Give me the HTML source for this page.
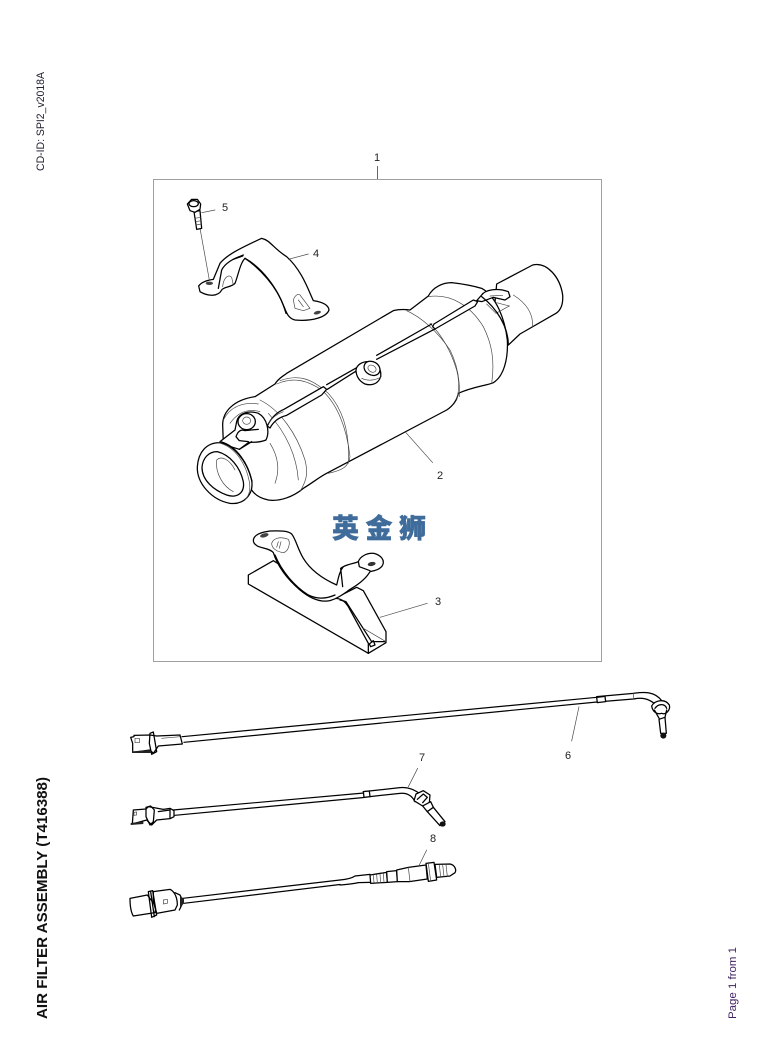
<!DOCTYPE html>
<html><head><meta charset="utf-8"><style>
html,body{margin:0;padding:0;background:#fff}
svg{display:block}
.k{fill:none;stroke:#000;stroke-width:3.8;stroke-linejoin:round;stroke-linecap:round}
.w{fill:#fff;stroke:#000;stroke-width:3.8;stroke-linejoin:round;stroke-linecap:round}
.t{fill:none;stroke:#444;stroke-width:2;stroke-linecap:round}
.c{fill:none;stroke:#000;stroke-width:1.2;stroke-linecap:round}
.n{font:11px "Liberation Sans",sans-serif;fill:#222;text-anchor:middle}
</style></head><body>
<svg width="758" height="1057" viewBox="0 0 758 1057" xmlns="http://www.w3.org/2000/svg">
<rect x="153.5" y="179.5" width="448" height="482" fill="none" stroke="#a0a0a0" stroke-width="1"/>
<line x1="377.5" y1="166" x2="377.5" y2="179" stroke="#666"/>
<text x="377" y="161" class="n">1</text>

<!-- main part -->
<g transform="translate(180,180) scale(.33333)">
<!-- outlet pipe -->
<path class="w" d="M950 312 L1058 255 C1100 245 1140 290 1148 345 C1150 375 1140 392 1128 400 L1020 462 L985 495 L940 420 Z"/>
<path class="t" d="M1000 345 C1040 370 1060 400 1058 440"/>
<!-- body -->
<path class="w" d="M130 790 L128 735 C128 695 160 660 225 650 L285 612 C295 595 310 588 320 580 L640 392 C655 388 675 388 690 390 L745 348 C760 320 790 308 815 308 C850 312 880 318 905 325 C950 350 975 420 982 480 C985 540 970 590 940 608 C915 618 880 620 835 640 C830 665 815 680 800 690 L440 880 C420 890 395 910 370 925 C340 950 300 965 265 960 C240 955 225 945 215 930 Z"/>
<!-- bands -->
<path class="t" d="M290 612 C340 590 380 600 425 630 C470 670 500 740 510 830 C505 860 490 870 445 880"/>
<path class="t" d="M300 602 C360 580 400 600 445 640 C490 690 510 760 505 850"/>
<path class="t" d="M680 392 C720 410 770 450 810 510 C835 560 840 610 838 650"/>
<path class="t" d="M750 430 C790 470 815 520 830 570 C838 600 838 630 830 660"/>
<path class="t" d="M745 350 C810 340 870 375 910 440 C935 490 945 540 935 610"/>
<path class="t" d="M240 660 C300 690 350 760 375 840 C385 880 380 900 360 935"/>
<path class="t" d="M265 700 C320 760 350 830 355 900"/>
<path class="t" d="M270 790 C295 830 300 870 285 910"/>
<!-- top strap -->
<path class="w" d="M320 706 L425 645 L440 628 L430 620 L312 688 C295 695 275 710 262 738 L270 744 C280 725 295 712 320 706 Z"/>
<path class="t" d="M265 730 C280 708 295 700 310 695"/>
<path class="k" d="M442 628 L530 572 M440 614 L530 563"/>
<path class="k" d="M590 538 L765 447 M590 526 L755 432"/>
<path class="w" d="M765 447 L885 378 L893 365 L880 360 L762 432 L758 440 Z"/>
<path class="w" d="M528 570 C530 555 545 545 565 545 C590 545 605 565 602 590 C595 612 575 618 555 612 C540 605 528 590 528 570 Z"/>
<path class="t" d="M545 595 C565 605 590 600 604 590"/>
<ellipse class="w" cx="576" cy="565" rx="25" ry="20" transform="rotate(30 576 565)"/>
<ellipse class="t" cx="576" cy="566" rx="13" ry="10" transform="rotate(30 576 566)"/>
<!-- far bracket -->
<path class="w" d="M890 362 L905 345 C915 330 950 322 985 335 L990 350 L975 360 L940 352 L905 365 Z"/>
<path class="t" d="M950 368 L988 378 L948 400 L920 372 M930 348 L968 346"/>
<path class="k" d="M905 350 C950 385 985 440 985 495"/>
<!-- near lug -->
<path class="w" d="M120 785 L165 750 L170 725 C175 700 205 690 235 700 C262 715 270 755 258 780 C235 790 215 785 205 788 L178 808 L120 790 Z"/>
<path class="k" d="M168 770 C175 750 185 748 195 752 L235 748 M168 770 L178 782 L205 785"/>
<path class="t" d="M130 720 C150 680 190 665 235 672 M150 730 C175 695 205 685 240 695"/>
<ellipse class="w" cx="200" cy="725" rx="26" ry="24"/>
<ellipse class="t" cx="200" cy="722" rx="12" ry="11"/>
<path class="k" d="M178 808 L215 785"/>
<!-- flange -->
<path class="w" d="M52 860 C55 815 80 788 120 788 C160 795 200 840 215 900 C222 945 190 975 150 970 C95 960 50 910 52 860 Z"/>
<path class="k" d="M125 786 C170 800 205 850 216 905" />
<path class="t" d="M115 788 C165 800 198 850 208 905 C212 930 208 945 195 960"/>
<path class="k" d="M66 862 C68 835 85 815 112 815 C150 825 180 860 190 905 C195 940 170 955 140 945 C100 930 66 900 66 862 Z"/>
<path class="t" d="M110 840 C125 825 150 840 165 870 M110 840 C105 880 130 920 160 935"/>
<!-- leader 2 -->
<path class="t" d="M678 758 L758 848"/>
</g>
<text x="440" y="479" class="n">2</text>

<!-- bracket 4, bolt 5 -->
<g transform="translate(180,180) scale(.33333)">
<path class="w" d="M56 318 C65 305 85 300 100 298 L120 250 C140 225 180 205 245 175 C270 180 280 205 320 230 C365 270 385 330 400 362 C420 365 445 372 447 390 C440 410 400 425 345 420 C325 415 320 400 312 380 C290 320 240 265 195 235 C180 250 175 285 165 310 C155 322 130 320 125 330 C115 350 85 350 60 335 Z"/>
<path class="k" d="M195 235 C240 260 295 320 318 400 M188 228 L160 238 L190 225"/>
<path class="t" d="M128 320 C130 295 145 280 155 292 L160 315"/>
<path class="k" d="M115 325 L125 270 C135 250 160 235 185 228"/>
<path class="t" d="M340 360 C345 345 355 340 360 345 L390 385 L370 392 L345 385 Z M355 360 L370 380"/>
<ellipse cx="412" cy="398" rx="11" ry="5" fill="#444" transform="rotate(-15 412 398)"/>
<ellipse cx="88" cy="310" rx="11" ry="5" fill="#444"/>
<path class="t" d="M60 145 L88 300"/>
<path class="w" d="M42 95 L60 92 L65 145 L50 148 Z"/>
<path class="t" d="M45 115 L62 112 M47 125 L63 122 M48 135 L64 132"/>
<path class="w" d="M22 72 L35 58 L52 58 L62 72 L60 88 L45 97 L30 92 Z"/>
<ellipse class="k" cx="41" cy="71" rx="14" ry="9"/>
<path class="t" d="M65 98 L105 90"/>
<path class="t" d="M325 238 L385 222"/>
</g>
<text x="225" y="211" class="n">5</text>
<text x="316" y="257" class="n">4</text>

<!-- bracket 3 -->
<g transform="translate(220,500) scale(.33333)">
<path class="w" d="M160 182 L85 225 L85 252 L445 460 L498 428 L498 395 L430 272 L410 262 L345 295 Z"/>
<path class="k" d="M345 295 C365 295 375 305 385 320 L445 430 L445 460"/>
<path class="k" d="M360 300 L378 305 L455 425 L495 425"/>
<path class="t" d="M430 385 L498 425"/>
<path class="k" d="M448 432 L460 422 L465 435 L452 440 Z"/>
<path class="w" d="M100 120 C102 105 120 97 150 93 C180 92 205 92 215 102 C228 118 232 145 250 175 C270 208 305 235 350 255 C355 235 358 215 370 200 C385 192 405 190 415 185 C420 170 440 158 462 160 C482 165 495 180 488 195 C482 208 465 212 450 215 C440 232 420 250 395 265 C375 278 355 295 330 302 C300 308 270 295 240 270 C205 240 175 205 160 158 C150 145 125 145 112 138 C103 132 100 128 100 120 Z"/>
<path class="k" d="M165 165 C185 215 225 260 265 285 C290 298 315 298 345 285 M370 200 L362 205 L368 260 M415 185 L418 200 L450 212"/>
<path class="t" d="M155 130 C160 115 180 108 205 118 C212 130 205 155 190 158 C170 155 155 145 155 130 Z M175 125 L170 142 M183 125 L178 145"/>
<ellipse cx="133" cy="106" rx="13" ry="6" fill="#444" transform="rotate(-15 133 106)"/>
<ellipse cx="455" cy="192" rx="12" ry="6" fill="#333" transform="rotate(-10 455 192)"/>
<path class="t" d="M480 352 L622 310"/>
</g>
<text x="438" y="605" class="n">3</text>

<!-- cables in page coordinates -->
<path class="c" d="M182 736.7 L597 697.3 M184 742.3 L597 702"/>
<path class="c" d="M173 810 L364 793 M175 815.3 L364 797.5"/>
<path class="c" d="M183 898.3 L340 880 M184 903.3 L340 884.5"/>

<!-- sensor 6 -->
<g transform="translate(340,680) scale(.33333)">
<path class="k" d="M770 50 L880 40 C915 35 945 35 965 62 M770 66 L880 57 C905 52 925 55 945 72"/>
<path class="w" d="M770 52 L795 49 L797 65 L772 68 Z"/>
<path class="t" d="M880 40 L880 57"/>
<path class="w" d="M935 78 C945 60 975 55 988 75 C992 90 978 105 965 100 C950 105 938 95 935 78 Z"/>
<path class="k" d="M945 85 C955 70 975 70 980 85 M943 90 L960 120 L975 112 L980 90"/>
<path class="w" d="M957 118 L975 112 L979 160 L962 160 Z"/>
<ellipse cx="970" cy="167" rx="9" ry="9" fill="#111"/>
<path class="t" d="M717 80 L695 183"/>
</g>
<text x="568" y="759" class="n">6</text>
<!-- sensor 7 -->
<g transform="translate(340,680) scale(.33333)">
<path class="k" d="M70 335 L180 323 C205 320 225 330 245 345 M70 352 L180 340 C200 338 215 345 225 365"/>
<path class="w" d="M70 335 L88 333 L90 350 L72 352 Z"/>
<path class="w" d="M222 362 L228 342 L250 332 L270 345 L268 368 L248 378 Z"/>
<path class="k" d="M232 358 L250 342 L262 352 L248 368"/>
<path class="w" d="M248 378 L272 365 L280 382 L262 395 Z"/>
<path class="w" d="M262 395 L280 382 L315 425 L300 437 Z"/>
<ellipse cx="308" cy="432" rx="9" ry="8" fill="#111"/>
<path class="t" d="M205 320 L233 265"/>
</g>
<text x="422" y="761" class="n">7</text>
<!-- sensor 8 -->
<g transform="translate(340,680) scale(.33333)">
<path class="k" d="M0 600 C20 598 35 595 45 588 L90 583 M0 615 C20 613 40 612 55 608 L90 607"/>
<path class="w" d="M90 585 L140 577 L142 607 L92 610 Z"/>
<path class="t" d="M100 585 L102 608 M110 584 L112 608 M120 582 L122 608 M130 581 L132 607"/>
<path class="w" d="M140 575 L170 572 L172 605 L142 607 Z"/>
<path class="w" d="M170 570 L205 562 L258 555 L262 597 L208 605 L172 605 Z"/>
<path class="t" d="M205 562 L210 605"/>
<path class="w" d="M258 550 L282 547 L290 600 L265 604 Z"/>
<path class="t" d="M265 550 L272 603"/>
<path class="w" d="M285 553 L330 552 C345 555 350 570 345 578 L330 588 L290 592 Z"/>
<path class="t" d="M298 555 L302 590 M308 554 L312 590 M318 554 L322 589"/>
<path class="t" d="M238 555 L260 510"/>
</g>
<text x="433" y="842" class="n">8</text>

<!-- connectors -->
<g transform="translate(120,720) scale(.33333)">
<!-- 6 -->
<path class="w" d="M32 52 L42 50 L42 46 L90 45 L110 48 L180 45 L187 72 L115 78 L100 100 L90 90 L38 97 L38 70 Z"/>
<path class="k" d="M90 40 L100 36 L110 95 L95 103 L88 70 Z"/>
<path class="t" d="M45 55 L58 55 L58 68 L45 68 Z M125 55 L180 50"/>
<path d="M36 94 L90 90 L92 99 L36 99 Z" fill="#222"/>
<!-- 7 -->
<path class="w" d="M40 270 L78 267 L85 260 L130 268 L150 265 L162 272 L162 290 L150 296 L110 300 L95 315 L80 300 L37 312 Z"/>
<path class="k" d="M78 262 L92 258 L103 270 L100 305 L90 315 L78 290 Z M115 275 L150 270 M150 268 L150 295"/>
<path d="M32 309 L70 304 L70 312 L32 315 Z" fill="#222"/>
<path class="t" d="M42 277 L50 276 L50 285 L42 286 Z"/>
<!-- 8 -->
<path class="w" d="M30 535 L82 525 L108 560 L105 578 L40 588 C32 575 30 555 30 535 Z"/>
<path class="w" d="M100 515 L150 508 C165 515 172 535 172 555 L165 570 L110 580 L100 545 Z"/>
<path class="k" d="M85 515 L98 512 L110 585 L95 592 Z M92 515 L103 590 M165 518 L180 525 L190 545 L178 570"/>
<path class="t" d="M130 540 L142 538 L142 550 L130 552 Z"/>
<path d="M180 530 L192 535 L192 550 L180 562 Z" fill="#222"/>
</g>

<!-- watermark -->
<text x="332" y="538" font-family="'Noto Sans CJK SC','WenQuanYi Zen Hei',sans-serif" font-weight="900" font-size="27" letter-spacing="6.5" fill="#3f6c9b" stroke="#3f6c9b" stroke-width=".4">英金狮</text>

<!-- margin text -->
<text transform="translate(44,171) rotate(-90)" font-family="'Liberation Sans',sans-serif" font-size="11" fill="#223" textLength="99" lengthAdjust="spacingAndGlyphs">CD-ID: SPI2_v2018A</text>
<text transform="translate(47,1019) rotate(-90)" font-family="'Liberation Sans',sans-serif" font-weight="bold" font-size="15" fill="#111" textLength="242" lengthAdjust="spacingAndGlyphs">AIR FILTER ASSEMBLY (T416388)</text>
<text transform="translate(736,1019) rotate(-90)" font-family="'Liberation Sans',sans-serif" font-size="11" fill="#402060" textLength="72" lengthAdjust="spacingAndGlyphs">Page 1 from 1</text>
</svg>
</body></html>
